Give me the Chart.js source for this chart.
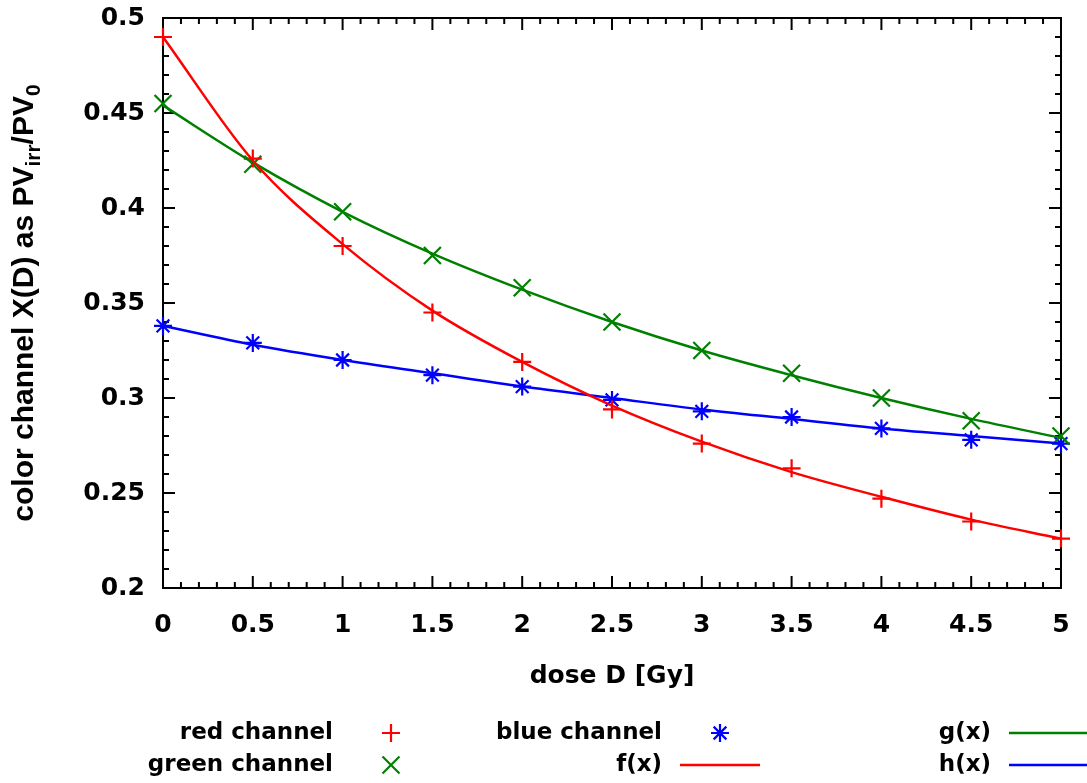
<!DOCTYPE html>
<html>
<head>
<meta charset="utf-8">
<script src="https://cdn.jsdelivr.net/npm/chart.js@4"></script>
<style>
  html, body { margin: 0; padding: 0; background: #fff; }
  #wrap { width: 1087px; height: 783px; }
</style>
</head>
<body>
<div id="wrap"><canvas id="doseChart" width="1087" height="783"></canvas></div>
<script>
// dose steps [Gy] and measured channel ratios
const doses = [0, 0.5, 1, 1.5, 2, 2.5, 3, 3.5, 4, 4.5, 5];
const redChannel   = [0.490, 0.426, 0.380, 0.345, 0.319, 0.294, 0.276, 0.263, 0.247, 0.235, 0.226];
const greenChannel = [0.455, 0.423, 0.398, 0.375, 0.358, 0.340, 0.325, 0.313, 0.300, 0.288, 0.280];
const blueChannel  = [0.338, 0.329, 0.320, 0.312, 0.306, 0.299, 0.293, 0.290, 0.284, 0.278, 0.276];

// fitted curves f, g, h evaluated at the same doses
const fitRed   = [0.490, 0.425, 0.381, 0.346, 0.319, 0.296, 0.277, 0.261, 0.248, 0.236, 0.226];
const fitGreen = [0.454, 0.424, 0.398, 0.376, 0.357, 0.340, 0.325, 0.312, 0.300, 0.289, 0.279];
const fitBlue  = [0.338, 0.328, 0.320, 0.313, 0.306, 0.300, 0.294, 0.289, 0.284, 0.280, 0.276];

const xTicks = [0, 0.5, 1, 1.5, 2, 2.5, 3, 3.5, 4, 4.5, 5];
const yTicks = [0.2, 0.25, 0.3, 0.35, 0.4, 0.45, 0.5];

const RED = '#ff0000';
const GREEN = '#008000';
const BLUE = '#0000ff';
const TICK_FONT = "bold 25px 'DejaVu Sans'";
const KEY_FONT = "bold 23px 'DejaVu Sans'";

const pts = vals => doses.map((d, i) => ({ x: d, y: vals[i] }));

function pointSet(label, vals, color, style, radius) {
    return {
        label, data: pts(vals), showLine: false, clip: false,
        pointStyle: style, pointRadius: radius, pointBorderWidth: 2.2,
        borderColor: color, backgroundColor: color, order: 1
    };
}

function lineSet(label, vals, color) {
    return {
        label, data: pts(vals), showLine: true, clip: false,
        pointRadius: 0, borderWidth: 2.5, borderColor: color,
        cubicInterpolationMode: 'monotone', order: 0
    };
}

// no label overhang padding, so the plot box sits exactly inside layout padding
function noOverhang(s) {
    s.paddingTop = 0; s.paddingBottom = 0;
    s.paddingLeft = 0; s.paddingRight = 0;
}

// frame with inward major/minor ticks on all four sides
const frameTicks = {
    id: 'frameTicks',
    beforeDatasetsDraw(chart) {
        const { ctx, chartArea: a, scales } = chart;
        ctx.save();
        ctx.strokeStyle = '#000';
        ctx.lineWidth = 2;
        const major = 12, minor = 6;
        ctx.beginPath();
        for (let i = 0; i < xTicks.length; i++) {
            const px = scales.x.getPixelForValue(xTicks[i]);
            ctx.moveTo(px, a.bottom); ctx.lineTo(px, a.bottom - major);
            ctx.moveTo(px, a.top); ctx.lineTo(px, a.top + major);
            if (i < xTicks.length - 1) {
                const step = (xTicks[i + 1] - xTicks[i]) / 5;
                for (let k = 1; k < 5; k++) {
                    const mx = scales.x.getPixelForValue(xTicks[i] + k * step);
                    ctx.moveTo(mx, a.bottom); ctx.lineTo(mx, a.bottom - minor);
                    ctx.moveTo(mx, a.top); ctx.lineTo(mx, a.top + minor);
                }
            }
        }
        for (let i = 0; i < yTicks.length; i++) {
            const py = scales.y.getPixelForValue(yTicks[i]);
            ctx.moveTo(a.left, py); ctx.lineTo(a.left + major, py);
            ctx.moveTo(a.right, py); ctx.lineTo(a.right - major, py);
            if (i < yTicks.length - 1) {
                const step = (yTicks[i + 1] - yTicks[i]) / 5;
                for (let k = 1; k < 5; k++) {
                    const my = scales.y.getPixelForValue(yTicks[i] + k * step);
                    ctx.moveTo(a.left, my); ctx.lineTo(a.left + minor, my);
                    ctx.moveTo(a.right, my); ctx.lineTo(a.right - minor, my);
                }
            }
        }
        ctx.stroke();
        ctx.strokeRect(a.left, a.top, a.right - a.left, a.bottom - a.top);
        ctx.restore();
    }
};

// axis titles (y title carries subscripts) and the two-row key
const titlesAndKey = {
    id: 'titlesAndKey',
    afterDraw(chart) {
        const { ctx, chartArea: a } = chart;
        ctx.save();
        ctx.fillStyle = '#000';

        ctx.font = TICK_FONT;
        ctx.textAlign = 'center';
        ctx.textBaseline = 'middle';
        ctx.fillText('dose D [Gy]', (a.left + a.right) / 2, 676);

        // rotated y title
        const big = "bold 30px 'Liberation Sans'";
        const small = "bold 21px 'Liberation Sans'";
        const parts = [
            ['color channel X(D) as PV', big, 0],
            ['irr', small, 7],
            ['/PV', big, 0],
            ['0', small, 7]
        ];
        let total = 0;
        parts.forEach(p => { ctx.font = p[1]; total += ctx.measureText(p[0]).width; });
        ctx.translate(33, (a.top + a.bottom) / 2);
        ctx.rotate(-Math.PI / 2);
        ctx.textAlign = 'left';
        ctx.textBaseline = 'alphabetic';
        let cx = -total / 2;
        parts.forEach(p => {
            ctx.font = p[1];
            ctx.fillText(p[0], cx, p[2]);
            cx += ctx.measureText(p[0]).width;
        });
        ctx.setTransform(1, 0, 0, 1, 0, 0);

        // key: entries fill columns top to bottom, two rows each
        const rows = [733, 765];
        ctx.font = KEY_FONT;
        ctx.textAlign = 'right';
        ctx.textBaseline = 'middle';
        chart.data.datasets.forEach((ds, i) => {
            const col = Math.floor(i / 2);
            const y = rows[i % 2];
            const right = 333 + col * 329;
            ctx.fillStyle = '#000';
            ctx.fillText(ds.label, right, y);
            ctx.strokeStyle = ds.borderColor;
            if (ds.showLine) {
                ctx.lineWidth = ds.borderWidth;
                ctx.beginPath();
                ctx.moveTo(right + 18, y);
                ctx.lineTo(right + 98, y);
                ctx.stroke();
            } else {
                ctx.lineWidth = ds.pointBorderWidth;
                Chart.helpers.drawPoint(ctx, {
                    pointStyle: ds.pointStyle, radius: ds.pointRadius,
                    borderWidth: ds.pointBorderWidth, rotation: 0
                }, right + 58, y);
            }
        });
        ctx.restore();
    }
};

new Chart(document.getElementById('doseChart').getContext('2d'), {
    type: 'scatter',
    data: {
        datasets: [
            pointSet('red channel', redChannel, RED, 'cross', 9),
            pointSet('green channel', greenChannel, GREEN, 'crossRot', 12),
            pointSet('blue channel', blueChannel, BLUE, 'star', 9),
            lineSet('f(x)', fitRed, RED),
            lineSet('g(x)', fitGreen, GREEN),
            lineSet('h(x)', fitBlue, BLUE)
        ]
    },
    options: {
        responsive: false,
        animation: false,
        devicePixelRatio: 1,
        layout: { padding: { left: 0, top: 18, right: 26, bottom: 0 } },
        plugins: { legend: { display: false }, tooltip: { enabled: false } },
        scales: {
            x: {
                type: 'linear', min: 0, max: 5,
                afterBuildTicks: s => { s.ticks = xTicks.map(v => ({ value: v })); },
                afterFit: s => { s.height = 195; noOverhang(s); },
                grid: { display: false, drawTicks: false },
                border: { display: false },
                ticks: {
                    padding: 22, color: '#000', maxRotation: 0, autoSkip: false,
                    font: { family: 'DejaVu Sans', size: 25, weight: 'bold' },
                    callback: v => String(v)
                }
            },
            y: {
                type: 'linear', min: 0.2, max: 0.5,
                afterBuildTicks: s => { s.ticks = yTicks.map(v => ({ value: v })); },
                afterFit: s => { s.width = 163; noOverhang(s); },
                grid: { display: false, drawTicks: false },
                border: { display: false },
                ticks: {
                    padding: 18, color: '#000', autoSkip: false,
                    font: { family: 'DejaVu Sans', size: 25, weight: 'bold' },
                    callback: v => String(Math.round(v * 100) / 100)
                }
            }
        }
    },
    plugins: [frameTicks, titlesAndKey]
});
</script>
</body>
</html>
